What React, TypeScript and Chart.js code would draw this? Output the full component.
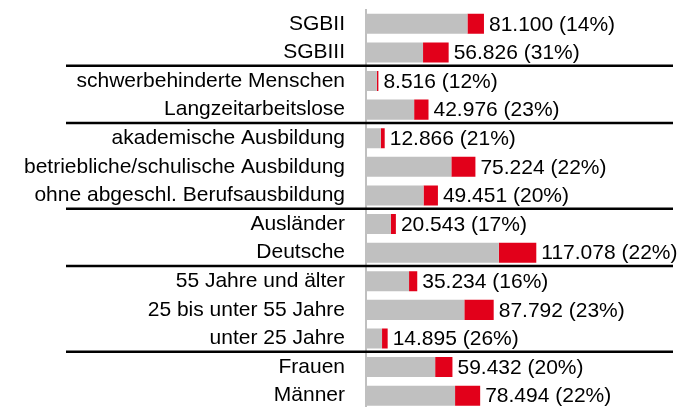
import React, { useEffect, useRef } from "react";
import { Chart, registerables } from "chart.js";

Chart.register(...registerables);

const categories = [
  "SGBII",
  "SGBIII",
  "schwerbehinderte Menschen",
  "Langzeitarbeitslose",
  "akademische Ausbildung",
  "betriebliche/schulische Ausbildung",
  "ohne abgeschl. Berufsausbildung",
  "Ausländer",
  "Deutsche",
  "55 Jahre und älter",
  "25 bis unter 55 Jahre",
  "unter 25 Jahre",
  "Frauen",
  "Männer",
];

const totals = [81100, 56826, 8516, 42976, 12866, 75224, 49451, 20543, 117078, 35234, 87792, 14895, 59432, 78494];
const shares = [14, 31, 12, 23, 21, 22, 20, 17, 22, 16, 23, 26, 20, 22];
// group separators are drawn after these category indices
const separatorsAfter = [1, 3, 6, 8, 11];

const GRAY = "#c0c0c0";
const RED = "#e2001a";
const FONT = "'Liberation Sans', Arial, Helvetica, sans-serif";

const grayPart = totals.map((t, i) => (t * (100 - shares[i])) / 100);
const redPart = totals.map((t, i) => (t * shares[i]) / 100);

function fmt(n: number): string {
  return String(Math.round(n)).replace(/\B(?=(\d{3})+(?!\d))/g, ".");
}

const labelPlugin = {
  id: "endLabels",
  afterDatasetsDraw(chart: any) {
    const ctx = chart.ctx;
    const meta = chart.getDatasetMeta(1);
    ctx.save();
    ctx.font = `21px ${FONT}`;
    ctx.fillStyle = "#000";
    ctx.textAlign = "left";
    ctx.textBaseline = "middle";
    meta.data.forEach((el: any, i: number) => {
      ctx.fillText(`${fmt(totals[i])} (${shares[i]}%)`, el.x + 5, el.y + 1);
    });
    ctx.restore();
  },
  afterDraw(chart: any) {
    const ctx = chart.ctx;
    const y = chart.scales.y;
    ctx.save();
    ctx.strokeStyle = "#000";
    ctx.lineWidth = 2.5;
    separatorsAfter.forEach((i) => {
      const py = (y.getPixelForValue(i) + y.getPixelForValue(i + 1)) / 2 - 1;
      ctx.beginPath();
      ctx.moveTo(chart.chartArea.left - 300, py);
      ctx.lineTo(chart.chartArea.right - 13, py);
      ctx.stroke();
    });
    ctx.restore();
  },
};

export default function App() {
  const ref = useRef<HTMLCanvasElement | null>(null);
  useEffect(() => {
    if (!ref.current) return;
    const chart = new Chart(ref.current, {
      type: "bar",
      data: {
        labels: categories,
        datasets: [
          { data: grayPart, backgroundColor: GRAY, borderWidth: 0 },
          { data: redPart, backgroundColor: RED, borderWidth: 0 },
        ],
      },
      options: {
        indexAxis: "y",
        animation: false,
        responsive: false,
        maintainAspectRatio: false,
        layout: { padding: { top: 9.5, bottom: 0, left: 0, right: 0 } },
        plugins: { legend: { display: false }, tooltip: { enabled: false } },
        datasets: { bar: { barPercentage: 0.7, categoryPercentage: 1 } },
        scales: {
          x: { stacked: true, display: false, min: 0, max: 220000 },
          y: {
            stacked: true,
            grid: { display: false, drawTicks: false },
            border: { display: true, color: "#c0c0c0", width: 2 },
            ticks: { color: "#000", padding: 21, font: { family: FONT, size: 21 } },
            afterFit: (s: any) => {
              s.width = 366;
              s.paddingTop = 0;
              s.paddingBottom = 0;
            },
          },
        },
      },
      plugins: [labelPlugin],
    });
    return () => chart.destroy();
  }, []);
  return (
    <canvas
      ref={ref}
      width={686}
      height={410}
      style={{ position: "fixed", left: 0, top: 0, width: 686, height: 410 }}
    />
  );
}
